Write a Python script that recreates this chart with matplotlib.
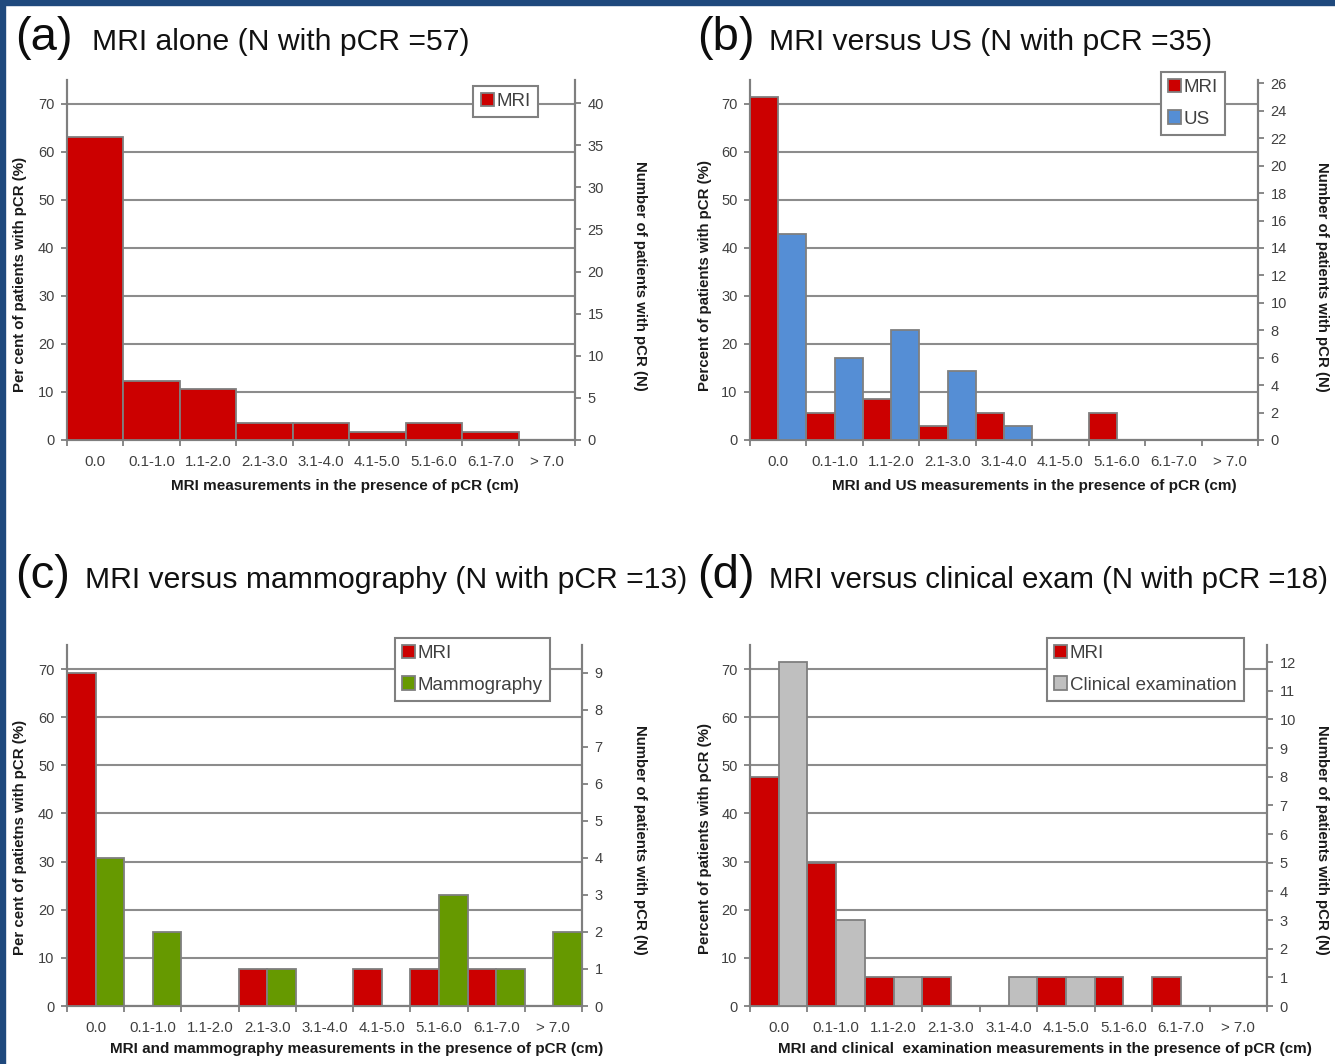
import numpy as np
import matplotlib
matplotlib.use("Agg")
import matplotlib.pyplot as plt
from matplotlib.patches import Rectangle
from matplotlib.ticker import FixedLocator

plt.rcParams['font.family'] = ['Liberation Sans', 'DejaVu Sans']

# size classes shown on the x axis
categories = ["0.0", "0.1-1.0", "1.1-2.0", "2.1-3.0", "3.1-4.0",
              "4.1-5.0", "5.1-6.0", "6.1-7.0", "> 7.0"]

# number of patients with pCR in each class
mri_alone = [36, 7, 6, 2, 2, 1, 2, 1, 0]
mri_vs_us = [25, 2, 3, 1, 2, 0, 2, 0, 0]
us = [15, 6, 8, 5, 1, 0, 0, 0, 0]
mri_vs_mammo = [9, 0, 0, 1, 0, 1, 1, 1, 0]
mammo = [4, 2, 0, 1, 0, 0, 3, 1, 2]
mri_vs_clin = [8, 5, 1, 1, 0, 1, 1, 1, 0]
clin = [12, 3, 1, 0, 1, 1, 0, 0, 0]

# patients that make 100 % on the left axis (panel d is drawn that way in the source)
n_pcr = [57, 35, 13, 16.8]
right_steps = [5, 2, 1, 1]
right_max = [40, 26, 9, 12]

titles = ["MRI alone (N with pCR =57)",
          "MRI versus US (N with pCR =35)",
          "MRI versus mammography (N with pCR =13)",
          "MRI versus clinical exam (N with pCR =18)"]
letters = ["(a)", "(b)", "(c)", "(d)"]
ylabels = ["Per cent of patients with pCR (%)",
           "Percent of patients with pCR (%)",
           "Per cent of patietns with pCR (%)",
           "Percent of patients with pCR (%)"]
xlabels = ["MRI measurements in the presence of pCR (cm)",
           "MRI and US measurements in the presence of pCR (cm)",
           "MRI and mammography measurements in the presence of pCR (cm)",
           "MRI and clinical  examination measurements in the presence of pCR (cm)"]
rlabel = "Number of patients with pCR (N)"

RED = "#CC0000"
BLUE = "#558ED5"
GREEN = "#669900"
GREY = "#BFBFBF"
EDGE = "#7f7f7f"
TXT = "#404040"

series = [
    [(mri_alone, RED, "MRI")],
    [(mri_vs_us, RED, "MRI"), (us, BLUE, "US")],
    [(mri_vs_mammo, RED, "MRI"), (mammo, GREEN, "Mammography")],
    [(mri_vs_clin, RED, "MRI"), (clin, GREY, "Clinical examination")],
]

W, H = 1335, 1064
fig = plt.figure(figsize=(W / 100, H / 100), dpi=100)

# axes boxes in pixels: left, top, right, bottom
boxes = [(67, 80, 575, 440), (750, 80, 1258, 440),
         (67, 645, 582, 1006), (750, 645, 1267, 1006)]
title_pos = [(15, 92, 50), (697, 769, 50), (15, 85, 588), (697, 769, 588)]
title_size = [21.7, 21.7, 21.7, 21.2]
leg_anchor = [(0.927, 0.983), (0.935, 1.022), (0.938, 1.019), (0.955, 1.019)]
ylab_xy = [(-0.079, 0.461), (-0.075, 0.456), (-0.078, 0.468), (-0.074, 0.463)]
rlab_xy = [(1.128, 0.456), (1.126, 0.453), (1.113, 0.46), (1.106, 0.46)]
xlab_xy = [(0.547, -0.108), (0.559, -0.108), (0.563, -0.099), (0.571, -0.099)]

for k in range(4):
    l, t, r, b = boxes[k]
    ax = fig.add_axes([l / W, 1 - b / H, (r - l) / W, (b - t) / H])
    ax2 = ax.twinx()

    x = np.arange(len(categories))
    nser = len(series[k])
    bw = 1.0 / nser
    for j, (vals, col, lab) in enumerate(series[k]):
        ax2.bar(x + j * bw, vals, width=bw, align="edge", color=col,
                edgecolor=EDGE, linewidth=1.3, label=lab, zorder=3)

    ax.set_xlim(0, len(categories))
    ax.set_ylim(0, 75)
    ax2.set_ylim(0, 75 * n_pcr[k] / 100)

    ax.set_yticks(np.arange(0, 71, 10))
    ax2.set_yticks(np.arange(0, right_max[k] + 1, right_steps[k]))
    ax.yaxis.grid(True, color="#8c8c8c", linewidth=1.5)
    ax.set_axisbelow(True)

    ax.set_xticks(x + 0.5)
    ax.set_xticklabels(categories)
    ax.xaxis.set_minor_locator(FixedLocator(np.arange(len(categories) + 1)))
    ax.tick_params(axis="x", which="major", length=0, pad=11,
                   labelsize=10.8, labelcolor=TXT)
    ax.tick_params(axis="x", which="minor", length=4, width=1.3, color=EDGE)
    ax.tick_params(axis="y", length=4, width=1.3, color=EDGE, pad=5,
                   labelsize=10.5, labelcolor=TXT)
    ax2.tick_params(axis="y", length=4, width=1.3, color=EDGE, pad=5,
                    labelsize=10.5, labelcolor=TXT)

    for a in (ax, ax2):
        a.spines["top"].set_visible(False)
        for s in ("left", "right", "bottom"):
            a.spines[s].set_color(EDGE)
            a.spines[s].set_linewidth(1.5)

    ax.set_ylabel(ylabels[k], fontsize=10.8, fontweight="bold", color="#1a1a1a")
    ax.yaxis.set_label_coords(*ylab_xy[k])
    ax2.set_ylabel(rlabel, fontsize=10.8, fontweight="bold", color="#1a1a1a",
                   rotation=270, va="center")
    ax2.yaxis.set_label_coords(*rlab_xy[k])
    ax.set_xlabel(xlabels[k], fontsize=11, fontweight="bold", color="#1a1a1a")
    ax.xaxis.set_label_coords(*xlab_xy[k])

    leg = ax2.legend(loc="upper right", bbox_to_anchor=leg_anchor[k],
                     borderaxespad=0, fontsize=13.5, frameon=True, fancybox=False,
                     framealpha=1, edgecolor="#808080", handlelength=0.7,
                     handleheight=0.7, handletextpad=0.15, labelspacing=0.75,
                     borderpad=0.38)
    leg.get_frame().set_linewidth(1.5)
    for txt in leg.get_texts():
        txt.set_color(TXT)
    leg.set_zorder(10)

    lx, tx, base = title_pos[k]
    fig.text(lx / W, 1 - base / H, letters[k], fontsize=34, color="#0d0d0d",
             va="baseline")
    fig.text(tx / W, 1 - base / H, titles[k], fontsize=title_size[k],
             color="#111111", va="baseline")

# dark blue frame along top and left edges
fig.patches.append(Rectangle((0, 1 - 5 / H), 1, 5 / H, transform=fig.transFigure,
                             color="#1F497D", zorder=20))
fig.patches.append(Rectangle((0, 0), 5 / W, 1, transform=fig.transFigure,
                             color="#1F497D", zorder=20))

fig.savefig("out.png", dpi=100)
